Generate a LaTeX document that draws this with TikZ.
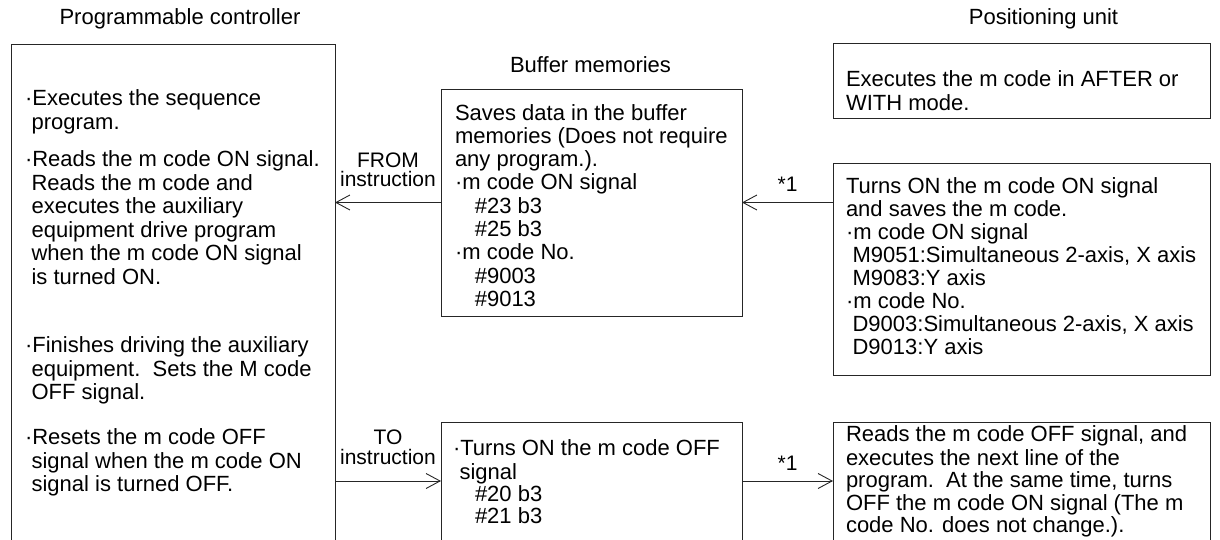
\documentclass[tikz,border=0pt]{standalone}
\usepackage{fontspec}
\setmainfont{Liberation Sans}
\usepackage{tikz}
\usetikzlibrary{arrows.meta,calc}
\newcommand{\indnt}[1][0.3em]{\hspace*{#1}}

\begin{document}
\begin{tikzpicture}[
  x=1pt, y=-1pt,
  box/.style={draw=black!85, line width=0.9pt, anchor=north west, inner sep=0pt, outer sep=0pt},
  txt/.style={font=\fontsize{22}{23}\selectfont, align=left, anchor=north west, inner sep=0pt, outer sep=0pt},
  ttl/.style={font=\fontsize{22}{23}\selectfont, anchor=base, inner sep=0pt},
  lab/.style={font=\fontsize{21}{19.5}\selectfont, align=center, inner sep=0pt},
  arr/.style={-{Straight Barb[length=14pt,width=15pt]}, line width=0.9pt, draw=black!85},
]
  \useasboundingbox (0,0) rectangle (1220,540);
  \clip (0,0) rectangle (1220,540);

  \node[ttl] (ttlctrl) at (180,25)     {Programmable controller};
  \node[ttl] (ttlbuf)  at (590.5,72.7) {Buffer memories};
  \node[ttl] (ttlpos)  at (1043.5,25)  {Positioning unit};

  \node[box, minimum width=324pt, minimum height=600pt] (ctrl) at (11,44)   {};
  \node[box, minimum width=301pt, minimum height=227pt] (buf1) at (441,89)  {};
  \node[box, minimum width=301pt, minimum height=200pt] (buf2) at (441,422) {};
  \node[box, minimum width=377pt, minimum height=75pt]  (pos1) at (833,43)  {};
  \node[box, minimum width=377pt, minimum height=212pt] (pos2) at (833,163) {};
  \node[box, minimum width=377pt, minimum height=200pt] (pos3) at (833,422) {};

  \node[txt, font=\fontsize{22}{23.5}\selectfont] (ctrltxt) at (25,89.5) {\strut·Executes the sequence\\
    \indnt program.\\[14pt]
    ·Reads the m code ON signal.\\
    \indnt Reads the m code and\\
    \indnt executes the auxiliary\\
    \indnt equipment drive program\\
    \indnt when the m code ON signal\\
    \indnt is turned ON.\\[45pt]
    ·Finishes driving the auxiliary\\
    \indnt equipment.\ \ Sets the M code\\
    \indnt OFF signal.\\[21.5pt]
    ·Resets the m code OFF\\
    \indnt signal when the m code ON\\
    \indnt signal is turned OFF.};
  \node[txt, font=\fontsize{22}{23.3}\selectfont] (buf1txt) at (455,103.7) {\strut Saves data in the buffer\\
    memories (Does not require\\
    any program.).\\
    ·m code ON signal\\
    \indnt[0.9em]\#23 b3\\
    \indnt[0.9em]\#25 b3\\
    ·m code No.\\
    \indnt[0.9em]\#9003\\
    \indnt[0.9em]\#9013};
  \node[txt, font=\fontsize{22}{22}\selectfont] (buf2txt) at (453,439.6) {\strut·Turns ON the m code OFF\\
    \indnt signal\\
    \indnt[1em]\#20 b3\\
    \indnt[1em]\#21 b3};
  \node[txt, font=\fontsize{22}{22}\selectfont] (pos1txt) at (846,70.6) {\strut Executes the m code in AFTER or\\
    WITH mode.};
  \node[txt] (pos2txt) at (846,176.9) {\strut Turns ON the m code ON signal\\
    and saves the m code.\\
    ·m code ON signal\\
    \indnt M9051:Simultaneous 2-axis, X axis\\
    \indnt M9083:Y axis\\
    ·m code No.\\
    \indnt D9003:Simultaneous 2-axis, X axis\\
    \indnt D9013:Y axis};
  \node[txt, font=\fontsize{22}{22.5}\selectfont] (pos3txt) at (846,425.75) {\strut Reads the m code OFF signal, and\\
    executes the next line of the\\
    program.\ \ At the same time, turns\\
    OFF the m code ON signal (The m\\
    code No. does not change.).};

  \coordinate (lowrow) at (0,481);
  \draw[arr] (pos2.west |- buf1.east) -- node[lab, above=10.8pt] {*1} (buf1.east);
  \draw[arr] (buf1.west) -- node[lab, above=15pt] {FROM\\instruction} (buf1.west -| ctrl.east);
  \draw[arr] (ctrl.east |- lowrow) -- node[lab, above=16pt] {TO\\instruction} (buf2.west |- lowrow);
  \draw[arr] (buf2.east |- lowrow) -- node[lab, above=10pt] {*1} (pos3.west |- lowrow);
\end{tikzpicture}
\end{document}
